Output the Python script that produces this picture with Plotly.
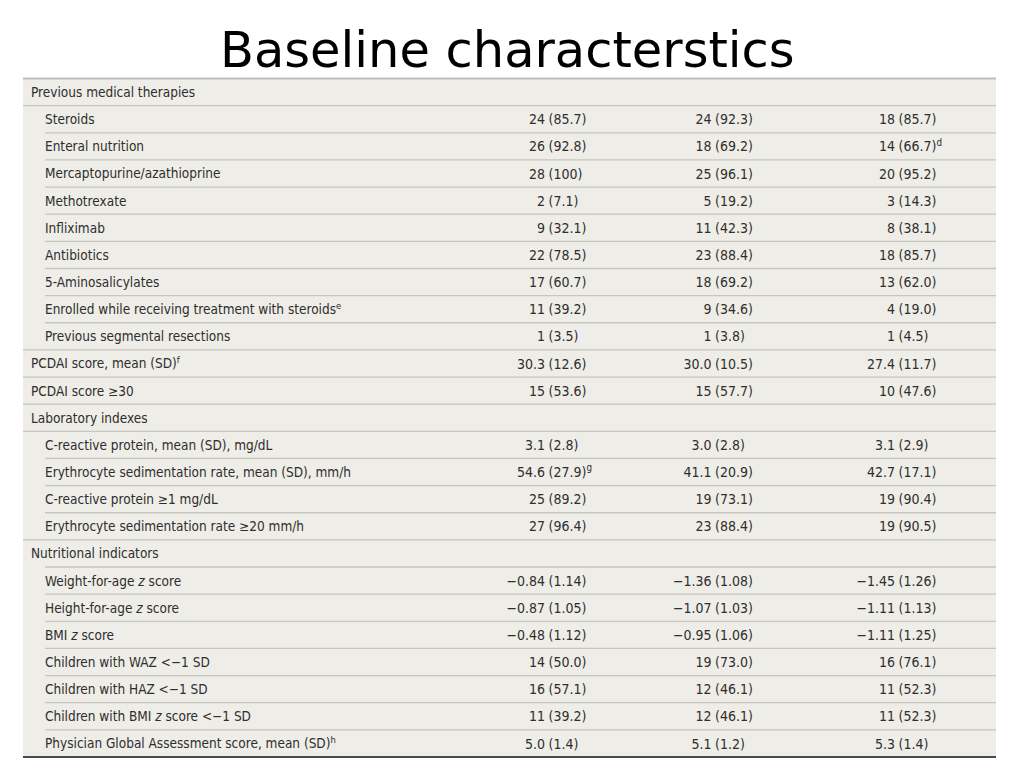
import plotly.graph_objects as go

# table rows - label text, indent level (0 = group heading / top level, 1 = item)
row_labels = [
    "Previous medical therapies",
    "Steroids",
    "Enteral nutrition",
    "Mercaptopurine/azathioprine",
    "Methotrexate",
    "Infliximab",
    "Antibiotics",
    "5-Aminosalicylates",
    "Enrolled while receiving treatment with steroids<sup>e</sup>",
    "Previous segmental resections",
    "PCDAI score, mean (SD)<sup>f</sup>",
    "PCDAI score ≥30",
    "Laboratory indexes",
    "C-reactive protein, mean (SD), mg/dL",
    "Erythrocyte sedimentation rate, mean (SD), mm/h",
    "C-reactive protein ≥1 mg/dL",
    "Erythrocyte sedimentation rate ≥20 mm/h",
    "Nutritional indicators",
    "Weight-for-age <i>z</i> score",
    "Height-for-age <i>z</i> score",
    "BMI <i>z</i> score",
    "Children with WAZ &lt;−1 SD",
    "Children with HAZ &lt;−1 SD",
    "Children with BMI <i>z</i> score &lt;−1 SD",
    "Physician Global Assessment score, mean (SD)<sup>h</sup>",
]
row_levels = [0, 1, 1, 1, 1, 1, 1, 1, 1, 1, 0, 0, 0, 1, 1, 1, 1, 0, 1, 1, 1, 1, 1, 1, 1]

group_1 = ["", "24 (85.7)", "26 (92.8)", "28 (100)", "2 (7.1)", "9 (32.1)", "22 (78.5)",
           "17 (60.7)", "11 (39.2)", "1 (3.5)", "30.3 (12.6)", "15 (53.6)", "",
           "3.1 (2.8)", "54.6 (27.9)<sup>g</sup>", "25 (89.2)", "27 (96.4)", "",
           "−0.84 (1.14)", "−0.87 (1.05)", "−0.48 (1.12)", "14 (50.0)", "16 (57.1)",
           "11 (39.2)", "5.0 (1.4)"]
group_2 = ["", "24 (92.3)", "18 (69.2)", "25 (96.1)", "5 (19.2)", "11 (42.3)", "23 (88.4)",
           "18 (69.2)", "9 (34.6)", "1 (3.8)", "30.0 (10.5)", "15 (57.7)", "",
           "3.0 (2.8)", "41.1 (20.9)", "19 (73.1)", "23 (88.4)", "",
           "−1.36 (1.08)", "−1.07 (1.03)", "−0.95 (1.06)", "19 (73.0)", "12 (46.1)",
           "12 (46.1)", "5.1 (1.2)"]
group_3 = ["", "18 (85.7)", "14 (66.7)<sup>d</sup>", "20 (95.2)", "3 (14.3)", "8 (38.1)", "18 (85.7)",
           "13 (62.0)", "4 (19.0)", "1 (4.5)", "27.4 (11.7)", "10 (47.6)", "",
           "3.1 (2.9)", "42.7 (17.1)", "19 (90.4)", "19 (90.5)", "",
           "−1.45 (1.26)", "−1.11 (1.13)", "−1.11 (1.25)", "16 (76.1)", "11 (52.3)",
           "11 (52.3)", "5.3 (1.4)"]

# ------------------------------------------------------------------------------
# layout constants (pixels on a 1024 x 768 page)
# ------------------------------------------------------------------------------
W, H = 1024, 768
TABLE_LEFT, TABLE_RIGHT = 23, 996
TABLE_TOP, TABLE_BOTTOM = 78.5, 757
ROW_H = (TABLE_BOTTOM - TABLE_TOP) / len(row_labels)
LABEL_X = {0: 31, 1: 45}
PAREN_X = [548.5, 715, 898.5]      # values are lined up on the opening bracket
GAP = 3.5

FONT = "Liberation Sans Narrow, DejaVu Sans Condensed, sans-serif"
TEXT_COL = "#2e2e2e"
BG_COL = "#eeede8"
RULE_COL = "#c6c6bf"

n = len(row_labels)
rows = list(range(n))

# y axis in row units, scaled so row 0 sits just under the title
y_top = -0.5 - TABLE_TOP / ROW_H
y_bot = -0.5 + (H - TABLE_TOP) / ROW_H

fig = go.Figure()

# labels
fig.add_trace(go.Scatter(
    x=[LABEL_X[l] for l in row_levels],
    y=[r + 0.06 for r in rows],
    text=row_labels,
    mode="text",
    textposition="middle right",
    textfont=dict(family=FONT, size=13.5, color=TEXT_COL),
    hoverinfo="skip",
))

# value columns, split "count (pct)" so the brackets line up
for px, col in zip(PAREN_X, [group_1, group_2, group_3]):
    lefts, rights, ys = [], [], []
    for i, v in enumerate(col):
        if not v:
            continue
        a, b = v.split(" (", 1)
        lefts.append(a)
        rights.append("(" + b)
        ys.append(i + 0.06)
    fig.add_trace(go.Scatter(
        x=[px - GAP] * len(ys), y=ys, text=lefts,
        mode="text", textposition="middle left",
        textfont=dict(family=FONT, size=14, color=TEXT_COL),
        hoverinfo="skip",
    ))
    fig.add_trace(go.Scatter(
        x=[px] * len(ys), y=ys, text=rights,
        mode="text", textposition="middle right",
        textfont=dict(family=FONT, size=14, color=TEXT_COL),
        hoverinfo="skip",
    ))

# background + rules
shapes = [dict(type="rect", xref="x", yref="y", layer="below",
               x0=TABLE_LEFT, x1=TABLE_RIGHT, y0=-0.5, y1=n - 0.5,
               fillcolor=BG_COL, line=dict(width=0))]
indented_rules = {17}   # rule under "Nutritional indicators" starts at the indent
for i in range(n - 1):
    nxt_indented = row_levels[i + 1] == 1
    if (row_levels[i] == 1 and nxt_indented) or i in indented_rules:
        x0 = LABEL_X[1]
    else:
        x0 = TABLE_LEFT
    shapes.append(dict(type="line", xref="x", yref="y", x0=x0, x1=TABLE_RIGHT,
                       y0=i + 0.5, y1=i + 0.5, line=dict(color=RULE_COL, width=1.3)))
shapes.append(dict(type="line", xref="x", yref="y", x0=TABLE_LEFT, x1=TABLE_RIGHT,
                   y0=-0.5, y1=-0.5, line=dict(color="#bdbdb6", width=2)))
shapes.append(dict(type="line", xref="x", yref="y", x0=TABLE_LEFT, x1=TABLE_RIGHT,
                   y0=n - 0.5, y1=n - 0.5, line=dict(color="#4a4a4a", width=2)))

fig.update_layout(
    width=W, height=H,
    margin=dict(l=0, r=0, t=0, b=0),
    paper_bgcolor="white",
    plot_bgcolor="white",
    showlegend=False,
    shapes=shapes,
    xaxis=dict(range=[0, W], visible=False, fixedrange=True),
    yaxis=dict(range=[y_bot, y_top], visible=False, fixedrange=True),
    annotations=[dict(
        text="Baseline characterstics",
        xref="paper", yref="paper", x=507.5 / W, y=1 - 50 / H,
        xanchor="center", yanchor="middle", showarrow=False,
        font=dict(family="DejaVu Sans, sans-serif", size=49.5, color="black"),
    )],
)

# drop the browser's default 8px page margin so the figure sits at 0,0
fig.write_html("out.html", config={"displayModeBar": False},
               post_script="document.body.style.margin='0';")
